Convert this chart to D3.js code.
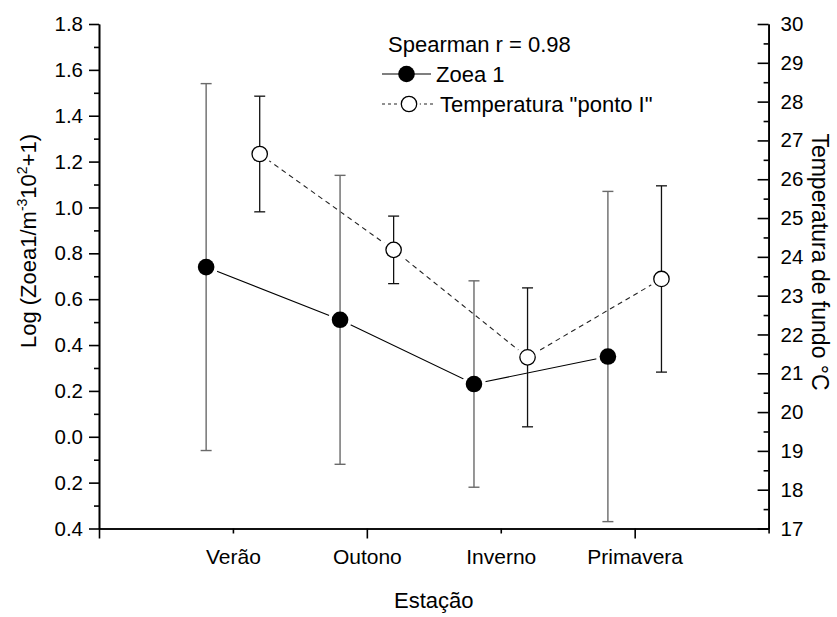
<!DOCTYPE html>
<html><head><meta charset="utf-8">
<script src="https://cdn.jsdelivr.net/npm/d3@7"></script>
<style>
body{margin:0;background:#fff}
text{font-family:Arial,"Liberation Sans",sans-serif;fill:#000}
</style>
</head><body>
<svg id="c" width="837" height="617"></svg>
<script>
// ---- data ----
const seasons = ["Verão","Outono","Inverno","Primavera"];
const zoeaMean = [0.74, 0.51, 0.23, 0.35];
const zoeaErr  = [0.80, 0.63, 0.45, 0.72];
const tempMean = [26.65, 24.18, 21.41, 23.43];
const tempErr  = [1.49, 0.87, 1.79, 2.40];
const leftTicks  = [-0.4,-0.2,0.0,0.2,0.4,0.6,0.8,1.0,1.2,1.4,1.6,1.8];
const rightTicks = [17,18,19,20,21,22,23,24,25,26,27,28,29,30];
const seriesNames = ["Zoea 1", "Temperatura \"ponto I\""];
const statText = "Spearman r = 0.98";

// ---- layout ----
const svg = d3.select("#c");
const L = 99, R = 768.6, T = 24, B = 528.5;
const x  = d3.scaleLinear().domain([0,5]).range([L,R]);
const yL = d3.scaleLinear().domain([-0.4,1.8]).range([B,T]);
const yR = d3.scaleLinear().domain([17,30]).range([B,T]);
const off = 0.2;
const fs = 20.5;   // tick labels
const fl = 22;     // legend
const ft = 23;     // titles

function styleAxis(g){
  g.selectAll("path,line").attr("stroke","#000").attr("stroke-width",1.6);
  g.selectAll("text").attr("font-size",fs).attr("font-family","Arial, 'Liberation Sans', sans-serif");
}

// left axis
const minorL = d3.range(-0.3,1.8,0.2).map(v=>+v.toFixed(2));
svg.append("g").attr("transform",`translate(${L},0)`)
  .call(d3.axisLeft(yL).tickValues(minorL).tickSize(5).tickFormat("").tickSizeOuter(0))
  .call(styleAxis);
svg.append("g").attr("transform",`translate(${L},0)`)
  .call(d3.axisLeft(yL).tickValues(leftTicks).tickSize(10).tickPadding(6)
        .tickFormat(d=>Math.abs(d).toFixed(1)).tickSizeOuter(0))
  .call(styleAxis);

// right axis (ticks inward)
const minorR = d3.range(17.5,30,1);
svg.append("g").attr("transform",`translate(${R},0)`)
  .call(d3.axisRight(yR).tickValues(minorR).tickSize(-5).tickFormat("").tickSizeOuter(0))
  .call(styleAxis);
svg.append("g").attr("transform",`translate(${R},0)`)
  .call(d3.axisRight(yR).tickValues(rightTicks).tickSize(-11).tickPadding(12).tickSizeOuter(0))
  .call(styleAxis);

// bottom axis
svg.append("g").attr("transform",`translate(0,${B})`)
  .call(d3.axisBottom(x).tickValues([1,3,5]).tickSize(5).tickFormat("").tickSizeOuter(0))
  .call(styleAxis);
svg.append("g").attr("transform",`translate(0,${B})`)
  .call(d3.axisBottom(x).tickValues([0,2,4]).tickSize(10).tickFormat("").tickSizeOuter(0))
  .call(styleAxis);
const xl = svg.append("g").attr("transform",`translate(0,${B})`)
  .call(d3.axisBottom(x).tickValues([1,2,3,4]).tickSize(0).tickPadding(21)
        .tickFormat(d=>seasons[d-1]).tickSizeOuter(0))
  .call(styleAxis);
xl.select(".domain").remove();
xl.selectAll("text").attr("font-size",21);

// axis titles
svg.append("text").attr("x",(L+R)/2).attr("y",608).attr("text-anchor","middle")
  .attr("font-size",ft-1).text("Estação");

const yt = svg.append("text").attr("transform","translate(36,241) rotate(-90)")
  .attr("text-anchor","middle").attr("font-size",ft-1);
yt.append("tspan").text("Log (Zoea1/m");
yt.append("tspan").attr("dy",-9).attr("font-size",14).text("-3");
yt.append("tspan").attr("dy",9).text("10");
yt.append("tspan").attr("dy",-9).attr("font-size",14).text("2");
yt.append("tspan").attr("dy",9).text("+1)");

svg.append("text").attr("transform","translate(812,262) rotate(90)")
  .attr("text-anchor","middle").attr("font-size",ft).text("Temperatura de fundo °C");

// ---- data marks ----
const zoea = seasons.map((s,i)=>({x:x(i+1-off), y:yL(zoeaMean[i]), lo:yL(zoeaMean[i]-zoeaErr[i]), hi:yL(zoeaMean[i]+zoeaErr[i])}));
const temp = seasons.map((s,i)=>({x:x(i+1+off), y:yR(tempMean[i]), lo:yR(tempMean[i]-tempErr[i]), hi:yR(tempMean[i]+tempErr[i])}));
const rMark = 8.3;

// connecting lines
const line = d3.line().x(d=>d.x).y(d=>d.y);
svg.append("path").attr("d",line(zoea)).attr("fill","none").attr("stroke","#000").attr("stroke-width",1.1);
svg.append("path").attr("d",line(temp)).attr("fill","none").attr("stroke","#222").attr("stroke-width",1.1).attr("stroke-dasharray","5,4");

// white halos around markers
svg.selectAll(".halo").data(zoea.concat(temp)).join("circle")
  .attr("cx",d=>d.x).attr("cy",d=>d.y).attr("r",rMark+3.5).attr("fill","#fff");

// error bars
function errBars(data, color, w){
  const g = svg.append("g").attr("stroke",color).attr("stroke-width",w);
  g.selectAll(".v").data(data).join("line").attr("x1",d=>d.x).attr("x2",d=>d.x).attr("y1",d=>d.lo).attr("y2",d=>d.hi);
  g.selectAll(".t").data(data).join("line").attr("x1",d=>d.x-5.5).attr("x2",d=>d.x+5.5).attr("y1",d=>d.hi).attr("y2",d=>d.hi);
  g.selectAll(".b").data(data).join("line").attr("x1",d=>d.x-5.5).attr("x2",d=>d.x+5.5).attr("y1",d=>d.lo).attr("y2",d=>d.lo);
}
errBars(zoea,"#6a6a6a",1.4);
errBars(temp,"#111",1.3);

// markers
svg.selectAll(".mz").data(zoea).join("circle").attr("cx",d=>d.x).attr("cy",d=>d.y).attr("r",rMark).attr("fill","#000");
svg.selectAll(".mt").data(temp).join("circle").attr("cx",d=>d.x).attr("cy",d=>d.y).attr("r",rMark-0.6)
  .attr("fill","#fff").attr("stroke","#000").attr("stroke-width",1.3);

// ---- legend ----
const lg = svg.append("g");
lg.append("text").attr("x",388).attr("y",52).attr("font-size",fl).text(statText);
// Zoea row
lg.append("line").attr("x1",382).attr("x2",431).attr("y1",74).attr("y2",74).attr("stroke","#000").attr("stroke-width",1.1);
lg.append("circle").attr("cx",406.5).attr("cy",74).attr("r",rMark).attr("fill","#000");
lg.append("text").attr("x",436).attr("y",82).attr("font-size",fl).text(seriesNames[0]);
// Temp row
lg.append("line").attr("x1",382).attr("x2",436).attr("y1",104).attr("y2",104).attr("stroke","#222").attr("stroke-width",1.1).attr("stroke-dasharray","3,3");
lg.append("circle").attr("cx",409).attr("cy",104).attr("r",rMark+2.5).attr("fill","#fff");
lg.append("circle").attr("cx",409).attr("cy",104).attr("r",rMark-0.6).attr("fill","#fff").attr("stroke","#000").attr("stroke-width",1.3);
lg.append("text").attr("x",440).attr("y",112).attr("font-size",fl).text(seriesNames[1]);
</script>
</body></html>
